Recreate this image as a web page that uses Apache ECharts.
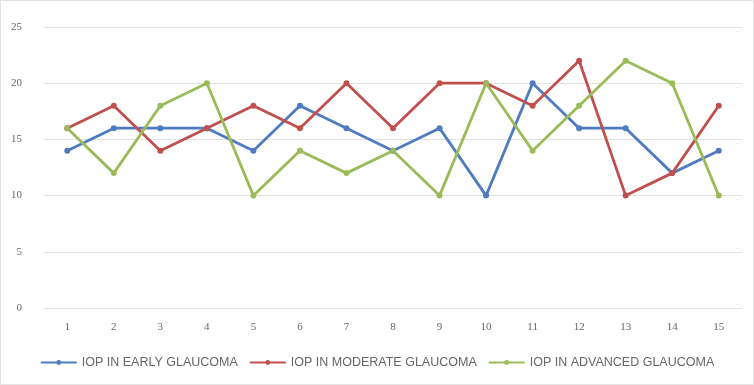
<!DOCTYPE html>
<html>
<head>
<meta charset="utf-8">
<style>
  html, body { margin: 0; padding: 0; background: #fff; }
  #chart { width: 754px; height: 385px; box-sizing: border-box; border: 1px solid #e4e4e4; }
</style>
<script src="https://cdn.jsdelivr.net/npm/echarts@6/dist/echarts.min.js"></script>
</head>
<body>
<div id="chart"></div>
<script>
// Patient index along the x axis
const categories = ['1','2','3','4','5','6','7','8','9','10','11','12','13','14','15'];

// Intraocular pressure readings per glaucoma stage
const iopEarly    = [14, 16, 16, 16, 14, 18, 16, 14, 16, 10, 20, 16, 16, 12, 14];
const iopModerate = [16, 18, 14, 16, 18, 16, 20, 16, 20, 20, 18, 22, 10, 12, 18];
const iopAdvanced = [16, 12, 18, 20, 10, 14, 12, 14, 10, 20, 14, 18, 22, 20, 10];

const seriesNames = ['IOP IN EARLY GLAUCOMA', 'IOP IN MODERATE GLAUCOMA', 'IOP IN ADVANCED GLAUCOMA'];
const seriesColors = ['#4F7CC0', '#C0504D', '#9BBB59'];

const chart = echarts.init(document.getElementById('chart'));

function lineSeries(name, data, color) {
  return {
    name: name,
    type: 'line',
    data: data,
    symbol: 'circle',
    symbolSize: 6,
    lineStyle: { width: 2.8, color: color },
    itemStyle: { color: color },
    animation: false
  };
}

chart.setOption({
  animation: false,
  grid: { left: 43, right: 11, top: 26, bottom: 76, containLabel: false },
  legend: {
    bottom: 10,
    left: 'center',
    itemWidth: 36,
    itemHeight: 6,
    itemGap: 11,
    textStyle: { color: '#666', fontSize: 12.5, fontFamily: 'Liberation Sans' },
    data: seriesNames
  },
  xAxis: {
    type: 'category',
    data: categories,
    boundaryGap: true,
    axisLine: { show: false },
    axisTick: { show: false },
    axisLabel: { color: '#666', fontSize: 11, margin: 14, fontFamily: 'Liberation Serif' }
  },
  yAxis: {
    type: 'value',
    min: 0,
    max: 25,
    interval: 5,
    axisLine: { show: false },
    axisTick: { show: false },
    axisLabel: { color: '#666', fontSize: 11, margin: 22, fontFamily: 'Liberation Serif' },
    splitLine: { lineStyle: { color: '#e3e3e3', width: 1 } }
  },
  series: [
    lineSeries(seriesNames[0], iopEarly, seriesColors[0]),
    lineSeries(seriesNames[1], iopModerate, seriesColors[1]),
    lineSeries(seriesNames[2], iopAdvanced, seriesColors[2])
  ]
});
</script>
</body>
</html>
